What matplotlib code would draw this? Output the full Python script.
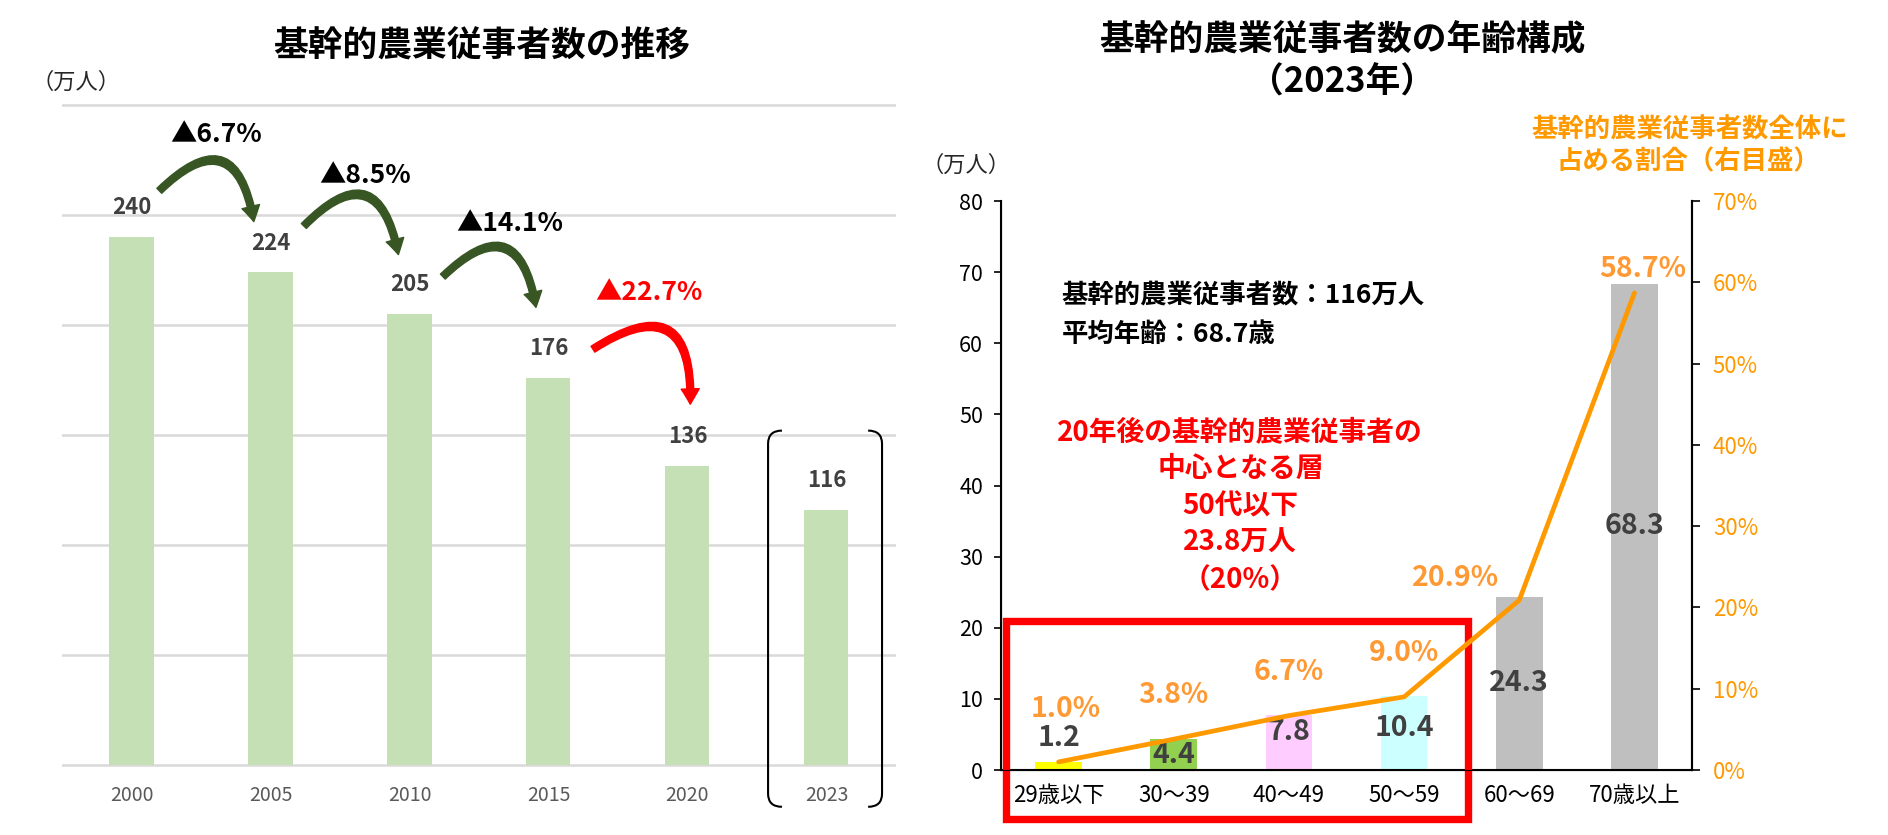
import matplotlib
matplotlib.use('Agg')
import matplotlib.pyplot as plt
from matplotlib.patches import FancyArrowPatch, Rectangle, PathPatch
from matplotlib.path import Path

plt.rcParams['font.family'] = ['Noto Sans CJK JP', 'DejaVu Sans']

# left chart: 基幹的農業従事者数の推移 (万人)
years = ['2000', '2005', '2010', '2015', '2020', '2023']
workers = [240, 224, 205, 176, 136, 116]

# right chart: 年齢構成 (2023年)
age_groups = ['29歳以下', '30～39', '40～49', '50～59', '60～69', '70歳以上']
age_workers = [1.2, 4.4, 7.8, 10.4, 24.3, 68.3]
age_share = [1.0, 3.8, 6.7, 9.0, 20.9, 58.7]

bar_colors = ['#FFFF00', '#92D050', '#FFCCFF', '#CCFFFF', '#BFBFBF', '#BFBFBF']

# annotation placement (offsets from the marks)
arrow_x0 = [0.20, 0.24, 0.24, 0.32]
arrow_x1 = [0.88, 0.92, 0.91, 1.02]
arrow_dy0 = [21, 21, 17, 13]
arrow_dy1 = [23, 27, 32, 28]
drop_dx = [0.61, 0.68, 0.72, 0.72]
val_label_y = [4.5, 2.1, 5.3, 5.9, 12.2, 34.3]
pct_label_y = [7.5, 9.2, 12.0, 14.4, 23.6, 61.6]
pct_label_dx = [0.06, 0, 0, 0, -0.55, 0.07]

fig = plt.figure(figsize=(18.88, 8.35), dpi=100)

# ---------- left chart ----------
ax1 = fig.add_axes([0.03284, 0.0812, 0.4417, 0.7957])
xs = list(range(len(years)))
ax1.bar(xs, workers, width=0.317, color='#C5E0B4', zorder=2)
ax1.set_xlim(-0.5, 5.5)
ax1.set_ylim(-1, 301)
ax1.set_yticks(range(0, 301, 50))
ax1.yaxis.grid(True, color='#D9D9D9', lw=1.8)
ax1.set_axisbelow(True)
for s in ax1.spines.values():
    s.set_visible(False)
ax1.tick_params(axis='y', left=False, labelleft=False)
ax1.set_xticks(xs, years)
ax1.tick_params(axis='x', length=0, pad=13, labelsize=14, labelcolor='#595959')

for i, v in enumerate(workers):
    ax1.text(i, v + 8, str(v), ha='center', va='bottom', fontsize=16,
             fontweight='bold', color='#404040')

# decline arrows between survey years
for i in range(4):
    drop = (workers[i] - workers[i + 1]) / workers[i] * 100
    col = '#FF0000' if i == 3 else '#375623'
    arr = FancyArrowPatch((i + arrow_x0[i], workers[i] + arrow_dy0[i]),
                          (i + arrow_x1[i], workers[i + 1] + arrow_dy1[i]),
                          connectionstyle='arc3,rad=-0.95',
                          arrowstyle='simple,tail_width=5,head_width=13,head_length=11',
                          color=col, shrinkA=0, shrinkB=0, zorder=4)
    ax1.add_patch(arr)
    tcol = '#FF0000' if i == 3 else 'black'
    ax1.text(i + drop_dx[i], workers[i] + 46.5 - 2.6 * i, f'▲{drop:.1f}%', ha='center',
             va='center', fontsize=19, fontweight='bold', color=tcol)

# bracket around 2023
for xb, d in [(4.58, 0.1), (5.40, -0.1)]:
    verts = [(xb + d, 152), (xb, 152), (xb, 146), (xb, -13), (xb, -19), (xb + d, -19)]
    codes = [Path.MOVETO, Path.CURVE3, Path.CURVE3, Path.LINETO, Path.CURVE3, Path.CURVE3]
    ax1.add_patch(PathPatch(Path(verts, codes), fill=False, lw=1.5, ec='black', clip_on=False))

fig.text(0.255, 0.945, '基幹的農業従事者数の推移', ha='center', va='center',
         fontsize=25, fontweight='bold')
fig.text(0.040, 0.902, '（万人）', ha='center', va='center', fontsize=16, color='#262626')

# ---------- right chart ----------
ax2 = fig.add_axes([0.5302, 0.0778, 0.3660, 0.6814])
ax2.bar(xs, age_workers, width=0.405, color=bar_colors, zorder=2)
ax2.set_xlim(-0.5, 5.5)
ax2.set_ylim(0, 80)
ax2.set_yticks(range(0, 81, 10))
ax2.spines['top'].set_visible(False)
for k in ['left', 'bottom', 'right']:
    ax2.spines[k].set_linewidth(1.5)
ax2.tick_params(axis='y', length=5, width=1.2, labelsize=15.5, pad=8)
ax2.set_xticks(xs, age_groups)
ax2.tick_params(axis='x', length=0, labelsize=16, pad=10)

for i, v in enumerate(age_workers):
    ax2.text(i, val_label_y[i], f'{v:.1f}', ha='center', va='center', fontsize=20.5,
             fontweight='bold', color='#404040', zorder=6)

ax3 = ax2.twinx()
ax3.plot(xs, age_share, color='#FF9900', lw=3.4, solid_capstyle='round', zorder=3)
ax3.set_ylim(0, 70)
ax3.set_yticks(range(0, 71, 10), [f'{t}%' for t in range(0, 71, 10)])
ax3.spines['top'].set_visible(False)
ax3.spines['right'].set_linewidth(1.5)
ax3.tick_params(axis='y', length=6, width=1.2, labelsize=16, pad=9, labelcolor='#FF9900')

for i, p in enumerate(age_share):
    ax3.text(i + pct_label_dx[i], pct_label_y[i], f'{p:.1f}%', ha='center', va='center',
             fontsize=20.5, fontweight='bold', color='#FF9933', zorder=6)

# highlight box for 50代以下
ax2.add_patch(Rectangle((-0.457, -6.9), 4.009, 27.85, fill=False, ec='#FF0000', lw=5.3,
                        clip_on=False, zorder=7))

ax2.text(0.028, 66.6, '基幹的農業従事者数：116万人', ha='left', va='center',
         fontsize=19, fontweight='bold')
ax2.text(0.028, 61.3, '平均年齢：68.7歳', ha='left', va='center',
         fontsize=19, fontweight='bold')
red_lines = ['20年後の基幹的農業従事者の', '中心となる層', '50代以下', '23.8万人', '（20%）']
for j, line in enumerate(red_lines):
    ax2.text(1.578, 47.5 - j * 5.2, line, ha='center', va='center', fontsize=20,
             fontweight='bold', color='#FF0000')

fig.text(0.711, 0.952, '基幹的農業従事者数の年齢構成', ha='center', va='center',
         fontsize=25, fontweight='bold')
fig.text(0.711, 0.902, '（2023年）', ha='center', va='center', fontsize=25, fontweight='bold')
fig.text(0.5117, 0.802, '（万人）', ha='center', va='center', fontsize=16, color='#262626')
fig.text(0.895, 0.844, '基幹的農業従事者数全体に', ha='center', va='center',
         fontsize=19, fontweight='bold', color='#FF9900')
fig.text(0.894, 0.806, '占める割合（右目盛）', ha='center', va='center',
         fontsize=19, fontweight='bold', color='#FF9900')

fig.savefig('out.png', dpi=100)
